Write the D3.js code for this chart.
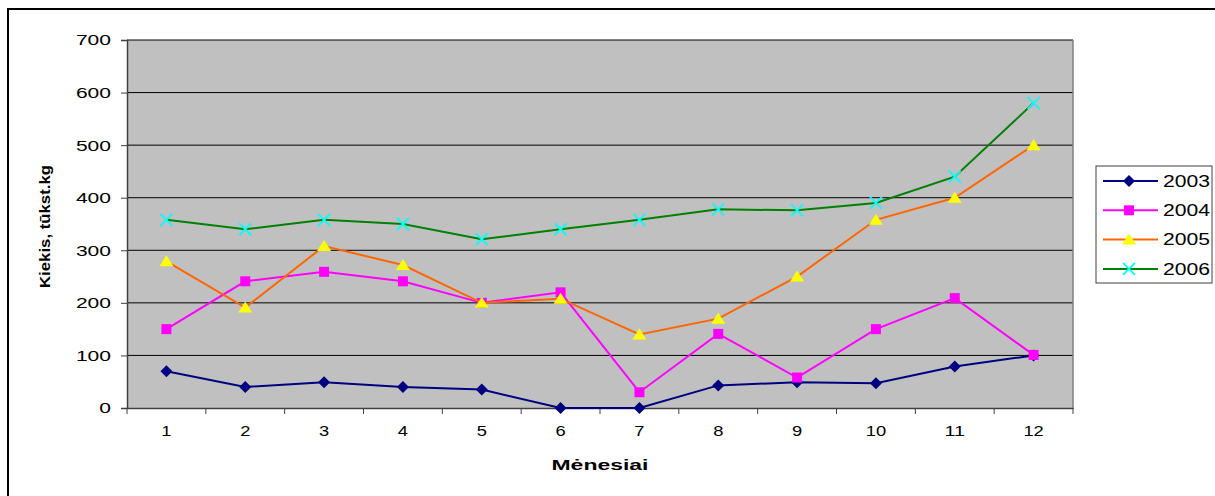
<!DOCTYPE html>
<html><head><meta charset="utf-8">
<script src="https://cdn.jsdelivr.net/npm/d3@7"></script>
<style>body{margin:0;background:#fff}svg{display:block}text{font-family:"Liberation Sans",Arial,sans-serif}</style>
</head><body><svg id="c" width="1215" height="496"></svg>
<script>
const months = ["1","2","3","4","5","6","7","8","9","10","11","12"];
const yTicks = [0,100,200,300,400,500,600,700];
const seriesNames = ["2003","2004","2005","2006"];
const v2003 = [70,40,49,40,35,0,0,43,49,47,79,100];
const v2004 = [150,241,259,241,200,220,30,141,58,150,209,101];
const v2005 = [279,191,308,272,200,208,140,170,250,358,400,500];
const v2006 = [358,340,358,350,321,340,358,378,376,390,440,580];
const lineColors = ["#000080","#FF00FF","#FF6600","#008000"];
const markColors = ["#000080","#FF00FF","#FFFF00","#00FFFF"];
const markTypes = ["diamond","square","triangle","x"];
const allVals = [v2003,v2004,v2005,v2006];

const svg = d3.select("#c");
const L=127,R=1073,T=40,B=408;
svg.append("rect").attr("x",8).attr("y",9).attr("width",1220).attr("height",500)
  .attr("fill","#fff").attr("stroke","#000").attr("stroke-width",2);

const x = d3.scaleBand().domain(months).range([L,R]);
const y = d3.scaleLinear().domain([0,700]).range([B,T]);

svg.append("rect").attr("x",L).attr("y",T).attr("width",R-L).attr("height",B-T).attr("fill","#C0C0C0");
svg.append("g").selectAll("line").data(yTicks.filter(d=>d>0)).join("line")
  .attr("x1",L).attr("x2",R).attr("y1",d=>y(d)).attr("y2",d=>y(d)).attr("stroke","#000").attr("stroke-width",1);
svg.append("line").attr("x1",R).attr("x2",R).attr("y1",T).attr("y2",B).attr("stroke","#808080").attr("stroke-width",1.5);

const ya = svg.append("g").attr("transform",`translate(${L},0)`)
  .call(d3.axisLeft(y).tickValues(yTicks).tickSize(6).tickPadding(10));
ya.select(".domain").attr("stroke","#404040").attr("stroke-width",1.5);
ya.selectAll(".tick line").attr("stroke","#404040");
ya.selectAll("text").attr("font-size",15.5).attr("fill","#000")
  .attr("textLength",d=>String(d).length*11.7).attr("lengthAdjust","spacingAndGlyphs");

const xa = svg.append("g").attr("transform",`translate(0,${B})`)
  .call(d3.axisBottom(x).tickSize(0).tickPadding(18));
xa.select(".domain").attr("stroke","#404040").attr("stroke-width",1.5);
xa.selectAll("text").attr("font-size",14.5).attr("fill","#000")
  .attr("textLength",d=>String(d).length*10.2).attr("lengthAdjust","spacingAndGlyphs");
svg.append("g").selectAll("line").data(months.concat(["end"])).join("line")
  .attr("x1",(d,i)=>L+i*x.step()).attr("x2",(d,i)=>L+i*x.step())
  .attr("y1",B).attr("y2",B+6).attr("stroke","#404040");

function sym(t){
  if(t==="diamond") return "M0,-6L6,0L0,6L-6,0Z";
  if(t==="square") return "M-5,-5H5V5H-5Z";
  if(t==="triangle") return "M0,-6L7,5L-7,5Z";
  return "M-6,-6L6,6M-6,6L6,-6";
}
const cx = d=>x(d)+x.bandwidth()/2;
allVals.forEach((vals,s)=>{
  const pts = months.map((m,i)=>[cx(m),y(vals[i])]);
  svg.append("path").attr("d",d3.line()(pts)).attr("fill","none")
    .attr("stroke",lineColors[s]).attr("stroke-width",2);
  svg.append("g").selectAll("path").data(pts).join("path")
    .attr("transform",d=>`translate(${d[0]},${d[1]})`).attr("d",sym(markTypes[s]))
    .attr("fill",markTypes[s]==="x"?"none":markColors[s])
    .attr("stroke",markColors[s]).attr("stroke-width",markTypes[s]==="x"?1.8:0);
});

// legend
const lg = svg.append("g");
lg.append("rect").attr("x",1096).attr("y",166).attr("width",116).attr("height",117)
  .attr("fill","#fff").attr("stroke","#404040").attr("stroke-width",1);
seriesNames.forEach((n,s)=>{
  const yy = 181 + s*29.3;
  lg.append("line").attr("x1",1103).attr("x2",1158).attr("y1",yy).attr("y2",yy)
    .attr("stroke",lineColors[s]).attr("stroke-width",2);
  lg.append("path").attr("transform",`translate(1129,${yy})`).attr("d",sym(markTypes[s]))
    .attr("fill",markTypes[s]==="x"?"none":markColors[s])
    .attr("stroke",markColors[s]).attr("stroke-width",markTypes[s]==="x"?1.8:0);
  lg.append("text").attr("x",1163).attr("y",yy).attr("dy","0.36em").attr("font-size",16)
    .attr("textLength",47).attr("lengthAdjust","spacingAndGlyphs").text(n);
});

svg.append("text").attr("x",600).attr("y",470).attr("text-anchor","middle")
  .attr("font-size",15).attr("font-weight","bold")
  .attr("textLength",97).attr("lengthAdjust","spacingAndGlyphs").text("Mėnesiai");
svg.append("text").attr("transform","translate(50,226.5) rotate(-90)").attr("text-anchor","middle")
  .attr("font-size",14).attr("font-weight","bold")
  .attr("textLength",123).attr("lengthAdjust","spacingAndGlyphs").text("Kiekis, tūkst.kg");
</script></body></html>
